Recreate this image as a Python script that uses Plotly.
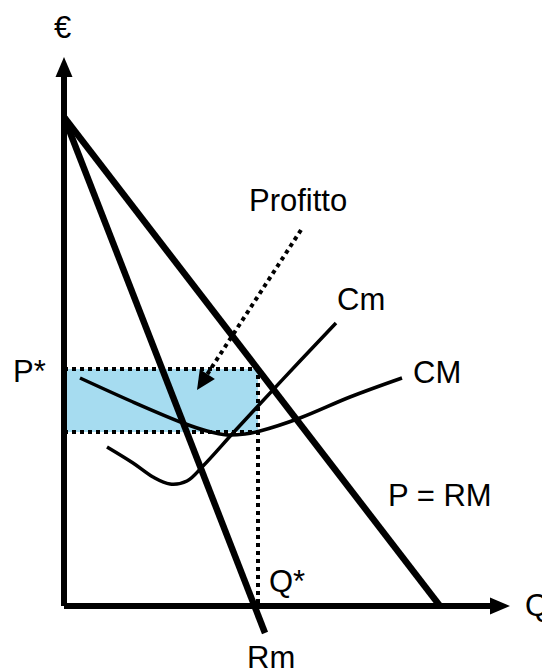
import math
import plotly.graph_objects as go

# economic diagram, units: origin where the axes meet
axis_y_q = [0, 0]
axis_y_p = [0, 549]
axis_x_q = [0, 446]
axis_x_p = [0, 0]

demand_q = [0, 376]          # P = RM
demand_p = [489, 0]
rm_q = [0, 201]              # Rm
rm_p = [489, -27]

cm_avg_q = [16, 69, 119, 143, 163, 181, 196, 236, 286, 338]      # CM
cm_avg_p = [228, 204, 183, 175, 171, 172, 175, 188, 209, 228]
cm_marg_q = [43, 69, 89, 106, 123, 139, 169, 194, 236, 272]     # Cm
cm_marg_p = [159, 143, 129, 122, 125, 140, 173, 200, 245, 283]

q_star = 194
p_star = 237
p_cost = 174

profit_arrow_q = [237, 133]
profit_arrow_p = [376, 216]

labels = ["€", "Q", "P*", "Profitto", "Cm", "CM", "P = RM", "Q*", "Rm"]
label_q = [-2, 473, -35, 234, 297, 373, 376, 223, 207]
label_p = [579, 1, 235, 406, 307, 234, 111, 25, -51]


def arrow_head(xs, ys, length, width):
    # triangle at the end of a segment, plus the point where the shaft stops
    dx, dy = xs[1] - xs[0], ys[1] - ys[0]
    n = math.hypot(dx, dy)
    ux, uy = dx / n, dy / n
    bx, by = xs[1] - ux * length, ys[1] - uy * length
    hx, hy = -uy * width / 2, ux * width / 2
    tri_x = [xs[1], bx + hx, bx - hx, xs[1]]
    tri_y = [ys[1], by + hy, by - hy, ys[1]]
    return tri_x, tri_y, (bx, by)


fig = go.Figure()

# profit rectangle
fig.add_trace(go.Scatter(
    x=[0, q_star, q_star, 0, 0],
    y=[p_cost, p_cost, p_star, p_star, p_cost],
    mode='lines', fill='toself', fillcolor='#a6dcf0',
    line=dict(width=0), hoverinfo='skip'
))
# dotted edges
fig.add_trace(go.Scatter(
    x=[0, q_star, q_star], y=[p_star, p_star, 0],
    mode='lines', line=dict(color='black', width=4, dash='dot')
))
fig.add_trace(go.Scatter(
    x=[0, q_star], y=[p_cost, p_cost],
    mode='lines', line=dict(color='black', width=4, dash='dot')
))

# cost curves
fig.add_trace(go.Scatter(
    x=cm_avg_q, y=cm_avg_p, mode='lines',
    line=dict(color='black', width=3.5, shape='spline')
))
fig.add_trace(go.Scatter(
    x=cm_marg_q, y=cm_marg_p, mode='lines',
    line=dict(color='black', width=3.5, shape='spline')
))

# revenue lines
fig.add_trace(go.Scatter(
    x=demand_q, y=demand_p, mode='lines',
    line=dict(color='black', width=6.5)
))
fig.add_trace(go.Scatter(
    x=rm_q, y=rm_p, mode='lines',
    line=dict(color='black', width=6.5)
))

# axes and the profit pointer, each with a filled head
arrows = [
    (axis_y_q, axis_y_p, 6, 'solid', 20, 17),
    (axis_x_q, axis_x_p, 6, 'solid', 20, 17),
    (profit_arrow_q, profit_arrow_p, 4, 'dot', 19, 18),
]
for xs, ys, w, dash, hl, hw in arrows:
    tri_x, tri_y, stop = arrow_head(xs, ys, hl, hw)
    fig.add_trace(go.Scatter(
        x=[xs[0], stop[0]], y=[ys[0], stop[1]], mode='lines',
        line=dict(color='black', width=w, dash=dash)
    ))
    fig.add_trace(go.Scatter(
        x=tri_x, y=tri_y, mode='lines', fill='toself',
        fillcolor='black', line=dict(width=0)
    ))

for t, q, p in zip(labels, label_q, label_p):
    fig.add_annotation(x=q, y=p, text=t, showarrow=False,
                       xanchor='center', yanchor='middle',
                       font=dict(family='Liberation Sans, Arial', size=31, color='black'))

fig.update_layout(
    width=542, height=669,
    margin=dict(l=0, r=0, t=0, b=0),
    showlegend=False,
    plot_bgcolor='white', paper_bgcolor='white',
    xaxis=dict(range=[-64, 478], visible=False, fixedrange=True),
    yaxis=dict(range=[-63, 606], visible=False, fixedrange=True),
)

fig.write_html("out.html", config={'displayModeBar': False},
               post_script="document.body.style.margin='0';")
